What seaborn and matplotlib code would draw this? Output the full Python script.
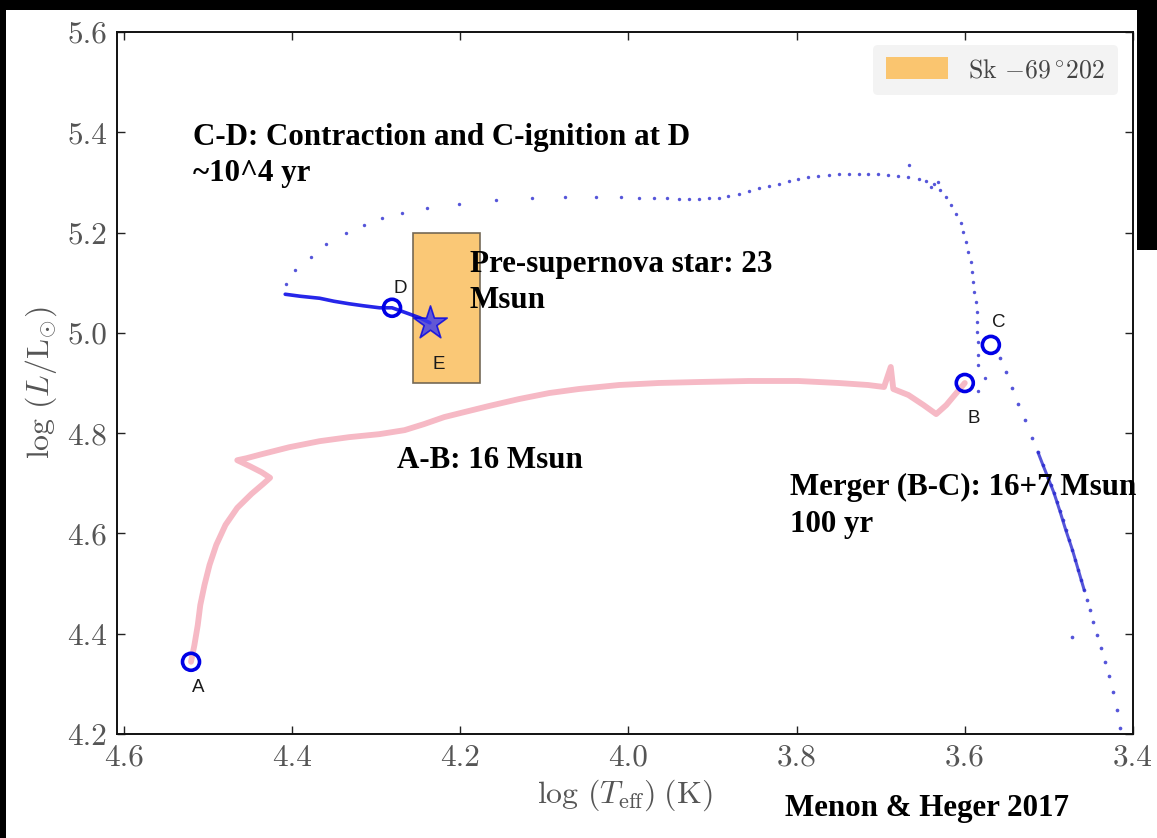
import matplotlib
matplotlib.use("Agg")
import matplotlib.pyplot as plt
from matplotlib.patches import Rectangle, Patch
import pandas as pd
import seaborn as sns

# ---------------- data ----------------
# 16 Msun track A-B (pink)
pink_teff = [4.520, 4.516, 4.512, 4.509, 4.504, 4.498, 4.490, 4.479, 4.465, 4.448,
             4.434, 4.426, 4.436, 4.450, 4.465, 4.454, 4.436, 4.403, 4.367, 4.332,
             4.296, 4.266, 4.243, 4.219, 4.195, 4.166, 4.130, 4.094, 4.059, 4.011,
             3.964, 3.916, 3.857, 3.798, 3.750, 3.715, 3.696, 3.688, 3.685, 3.667,
             3.649, 3.634, 3.622, 3.610, 3.600]
pink_lum = [4.344, 4.377, 4.417, 4.457, 4.497, 4.537, 4.577, 4.617, 4.651, 4.679,
            4.699, 4.711, 4.722, 4.734, 4.746, 4.750, 4.758, 4.772, 4.784, 4.792,
            4.798, 4.806, 4.818, 4.832, 4.842, 4.854, 4.868, 4.880, 4.888, 4.896,
            4.900, 4.902, 4.904, 4.904, 4.900, 4.896, 4.892, 4.932, 4.888, 4.876,
            4.856, 4.838, 4.856, 4.880, 4.900]

# post-merger dotted path C -> D (blue dots)
arc_teff = [4.4065, 4.3958, 4.3769, 4.3590, 4.3353, 4.3139, 4.2926, 4.2688, 4.2392, 4.2012,
            4.1573, 4.1145, 4.0754, 4.0386, 4.0089, 3.9875, 3.9697, 3.9543, 3.9401, 3.9280,
            3.9160, 3.9040, 3.8920, 3.8810, 3.8690, 3.8570, 3.8450, 3.8330, 3.8210, 3.8090,
            3.7980, 3.7860, 3.7740, 3.7620, 3.7500, 3.7380, 3.7260, 3.7150, 3.7030, 3.6910,
            3.6790, 3.6670, 3.6550, 3.6460, 3.6370, 3.6290, 3.6220, 3.6160, 3.6100, 3.6050,
            3.6020, 3.5980, 3.5960, 3.5930, 3.5910, 3.5900, 3.5890, 3.5870, 3.5860, 3.5850,
            3.5850, 3.5845, 3.5840, 3.5840, 3.6660, 3.6400, 3.6320, 3.5760, 3.5840]
arc_lum = [5.097, 5.125, 5.151, 5.177, 5.199, 5.215, 5.229, 5.239, 5.249, 5.257,
           5.265, 5.269, 5.271, 5.271, 5.271, 5.269, 5.269, 5.268, 5.267, 5.267,
           5.267, 5.268, 5.269, 5.273, 5.277, 5.283, 5.289, 5.293, 5.297, 5.303,
           5.307, 5.311, 5.313, 5.315, 5.317, 5.317, 5.317, 5.317, 5.316, 5.315,
           5.313, 5.311, 5.307, 5.303, 5.297, 5.285, 5.271, 5.255, 5.237, 5.219,
           5.201, 5.181, 5.161, 5.141, 5.121, 5.101, 5.081, 5.061, 5.042, 5.022,
           5.002, 4.982, 4.956, 4.936, 5.335, 5.290, 5.300, 4.910, 4.885]

# merger excursion from C towards the red (blue dots)
desc_teff = [3.558, 3.551, 3.544, 3.537, 3.528, 3.520, 3.513, 3.507, 3.501, 3.497,
             3.494, 3.490, 3.487, 3.483, 3.480, 3.476, 3.472, 3.469, 3.465, 3.462,
             3.458, 3.455, 3.451, 3.447, 3.443, 3.438, 3.433, 3.428, 3.424, 3.419,
             3.415, 3.472]
desc_lum = [4.950, 4.922, 4.890, 4.858, 4.826, 4.790, 4.762, 4.736, 4.711, 4.697,
            4.681, 4.663, 4.645, 4.627, 4.607, 4.587, 4.567, 4.547, 4.527, 4.507,
            4.487, 4.467, 4.447, 4.423, 4.397, 4.371, 4.343, 4.316, 4.284, 4.248,
            4.212, 4.393]

# dense (line-like) part of the excursion
dense_teff = [3.513, 3.507, 3.501, 3.494, 3.487, 3.480, 3.472, 3.465, 3.458]
dense_lum = [4.762, 4.736, 4.711, 4.681, 4.645, 4.607, 4.567, 4.527, 4.487]

# C-ignition to pre-supernova (solid blue)
solid_teff = [4.408, 4.390, 4.367, 4.350, 4.332, 4.315, 4.296, 4.281, 4.261, 4.248, 4.236]
solid_lum = [5.077, 5.073, 5.069, 5.063, 5.058, 5.054, 5.050, 5.050, 5.038, 5.030, 5.020]

# key points
point_names = ["A", "B", "C", "D"]
point_teff = [4.520, 3.600, 3.569, 4.281]
point_lum = [4.344, 4.900, 4.976, 5.050]
label_teff = [4.512, 3.589, 3.560, 4.271, 4.226]
label_lum = [4.292, 4.830, 5.020, 5.089, 4.936]
label_names = ["A", "B", "C", "D", "E"]
star_teff = [4.236]
star_lum = [5.020]

# Sk -69 202 box
box_teff = [4.256, 4.176]
box_lum = [4.900, 5.200]

xticks = [4.6, 4.4, 4.2, 4.0, 3.8, 3.6, 3.4]
yticks = [4.2, 4.4, 4.6, 4.8, 5.0, 5.2, 5.4, 5.6]

# ---------------- style ----------------
sns.set_theme(style="ticks")
plt.rcParams.update({
    "font.family": ["cmr10", "DejaVu Serif"],
    "mathtext.fontset": "cm",
    "axes.formatter.use_mathtext": True,
    "axes.unicode_minus": False,
})

W, H = 1157, 838
fig = plt.figure(figsize=(W / 100, H / 100), dpi=100, facecolor="white")
ax = fig.add_axes([117 / W, 1 - 734 / H, (1133 - 117) / W, (734 - 32) / H])

pink = "#f6b9c5"
blue = "#0000e6"
orange = "#fac56f"

df_pink = pd.DataFrame({"teff": pink_teff, "lum": pink_lum})
sns.lineplot(data=df_pink, x="teff", y="lum", sort=False, estimator=None,
             color=pink, lw=4.2, ax=ax, zorder=2)

rect = Rectangle((box_teff[0], box_lum[0]), box_teff[1] - box_teff[0], box_lum[1] - box_lum[0],
                 facecolor=orange, edgecolor="#6e6250", lw=1.2, alpha=0.95, zorder=1)
ax.add_patch(rect)

df_arc = pd.DataFrame({"teff": arc_teff, "lum": arc_lum})
sns.scatterplot(data=df_arc, x="teff", y="lum", color="#2a2ad0", s=6, linewidth=0,
                alpha=0.8, ax=ax, zorder=3)
df_desc = pd.DataFrame({"teff": desc_teff, "lum": desc_lum})
sns.scatterplot(data=df_desc, x="teff", y="lum", color="#2a2ad0", s=7, linewidth=0,
                alpha=0.8, ax=ax, zorder=3)
df_dense = pd.DataFrame({"teff": dense_teff, "lum": dense_lum})
sns.lineplot(data=df_dense, x="teff", y="lum", sort=False, estimator=None,
             color="#2a2ad0", lw=2.2, alpha=0.8, ax=ax, zorder=3)

df_solid = pd.DataFrame({"teff": solid_teff, "lum": solid_lum})
sns.lineplot(data=df_solid, x="teff", y="lum", sort=False, estimator=None,
             color=blue, lw=2.6, alpha=0.85, ax=ax, zorder=4)

df_pts = pd.DataFrame({"teff": point_teff, "lum": point_lum, "name": point_names})
sns.scatterplot(data=df_pts, x="teff", y="lum", marker="o", s=150,
                facecolor="none", edgecolor=blue, linewidth=2.6, ax=ax, zorder=5)
df_star = pd.DataFrame({"teff": star_teff, "lum": star_lum})
sns.scatterplot(data=df_star, x="teff", y="lum", marker="*", s=640,
                color="#3b3bee", edgecolor=blue, linewidth=1.2, alpha=0.8, ax=ax, zorder=6)

for t, l, n in zip(label_teff, label_lum, label_names):
    ax.text(t, l, n, ha="center", va="center", fontsize=13.5, color="#1a1a1a",
            family="Liberation Sans", zorder=7)

ax.set_xlim(4.608, 3.40)
ax.set_ylim(4.2, 5.6)
ax.set_xticks(xticks)
ax.set_yticks(yticks)
ax.xaxis.set_major_formatter(matplotlib.ticker.FormatStrFormatter("%.1f"))
ax.yaxis.set_major_formatter(matplotlib.ticker.FormatStrFormatter("%.1f"))
ax.tick_params(direction="in", length=6, width=1.0, top=True, right=True,
               labelsize=22.5, labelcolor="#555555", color="#222222", pad=7)
for s in ax.spines.values():
    s.set_linewidth(1.4)
    s.set_color("#111111")

ax.set_xlabel(r"$\log\,(T_{\rm eff})\;({\rm K})$", fontsize=23, color="#555555", labelpad=4)
ax.set_ylabel(r"$\log\,(L/{\rm L}_{\odot})$", fontsize=23, color="#555555", labelpad=6)

leg = ax.legend(handles=[Patch(facecolor=orange, edgecolor="none", label=r"Sk $-69\,^{\circ}202$")],
                loc="upper right", fontsize=18.5, frameon=True, handlelength=2.4, handleheight=0.9,
                borderpad=0.5, borderaxespad=0, bbox_to_anchor=(0.985, 0.982))
leg.get_frame().set_facecolor("#f3f3f3")
leg.get_frame().set_edgecolor("none")
leg.get_frame().set_alpha(1)
for t in leg.get_texts():
    t.set_color("#444444")

# annotations (serif, heavy)
ann = dict(family="Liberation Serif", fontweight="bold", fontsize=22.3, color="black", va="baseline")
fig.text(193 / W, 1 - 145 / H, "C-D: Contraction and C-ignition at D", **ann)
fig.text(193 / W, 1 - 181 / H, "~10^4 yr", **ann)
fig.text(470 / W, 1 - 272 / H, "Pre-supernova star: 23", **ann)
fig.text(470 / W, 1 - 308 / H, "Msun", **ann)
fig.text(397 / W, 1 - 468 / H, "A-B: 16 Msun", **ann)
fig.text(790 / W, 1 - 495 / H, "Merger (B-C): 16+7 Msun", **ann)
fig.text(790 / W, 1 - 532 / H, "100 yr", **ann)
fig.text(785 / W, 1 - 816 / H, "Menon & Heger 2017", **ann)

# black screenshot border strips
for (x0, y0, w, h) in [(0, 828, 1157, 10), (0, 0, 6, 838), (1137, 588, 20, 250)]:
    fig.add_artist(Rectangle((x0 / W, y0 / H), w / W, h / H, transform=fig.transFigure,
                             facecolor="black", edgecolor="none", zorder=10))

fig.savefig("out.png", dpi=100, facecolor="white")
